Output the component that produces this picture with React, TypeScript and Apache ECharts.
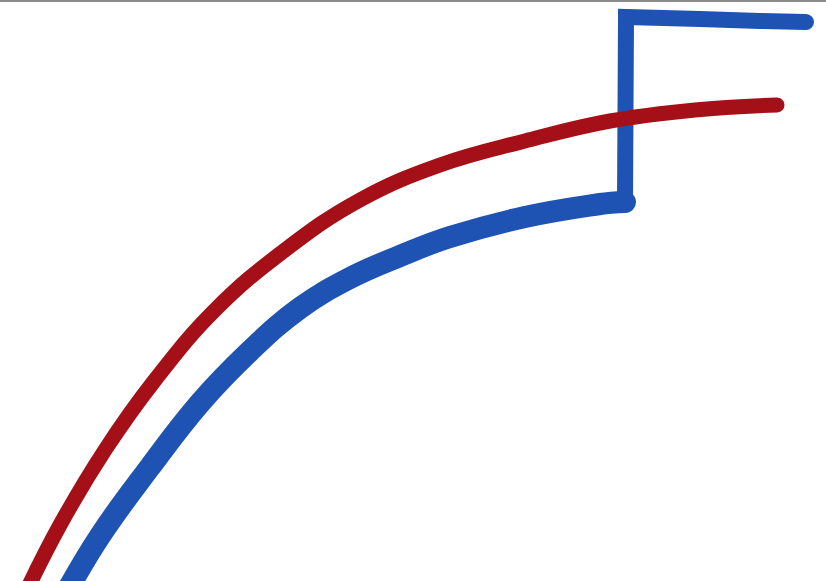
import {useEffect, useRef} from 'react';
import * as echarts from 'echarts';

// points, x to the right, y downward from the top edge
const redCurve: number[][] = [
    [22, 600], [60, 525], [105, 450], [155, 380], [215, 310], [285, 250],
    [360, 200], [440, 165], [525, 141], [610, 121], [695, 110], [777, 105]
];

const blueCurve: number[][] = [
    [62, 600], [100, 536], [150, 467], [200, 403], [250, 351], [300, 308],
    [350, 278], [400, 256], [450, 237], [525, 217], [600, 204], [625, 202]
];

const blueStep: number[][] = [
    [625, 202], [626, 17], [700, 19], [760, 21], [806, 22]
];

const RED = '#a50f17';
const BLUE = '#1f53b3';

export default function App() {
    const ref = useRef<HTMLDivElement | null>(null);

    useEffect(() => {
        document.body.style.margin = '0';
        if (!ref.current) return;
        const chart = echarts.init(ref.current, null, {renderer: 'svg'});
        chart.setOption({
            animation: false,
            backgroundColor: '#ffffff',
            grid: {left: 0, right: 0, top: 0, bottom: 0},
            xAxis: {type: 'value', min: 0, max: 826, show: false},
            yAxis: {type: 'value', min: 0, max: 581, inverse: true, show: false},
            graphic: [
                {type: 'rect', shape: {x: 0, y: 0, width: 826, height: 2}, style: {fill: '#8c8c8c'}}
            ],
            series: [
                {
                    type: 'line', data: blueCurve, smooth: 0.4, symbol: 'none', silent: true,
                    lineStyle: {color: BLUE, width: 22, cap: 'round', join: 'round'}
                },
                {
                    type: 'line', data: blueStep, smooth: false, symbol: 'none', silent: true,
                    lineStyle: {color: BLUE, width: 16, cap: 'round', join: 'miter'}
                },
                {
                    type: 'line', data: redCurve, smooth: 0.4, symbol: 'none', silent: true,
                    lineStyle: {color: RED, width: 15, cap: 'round', join: 'round'}
                }
            ]
        });
        return () => chart.dispose();
    }, []);

    return <div ref={ref} style={{width: 826, height: 581}}/>;
}
